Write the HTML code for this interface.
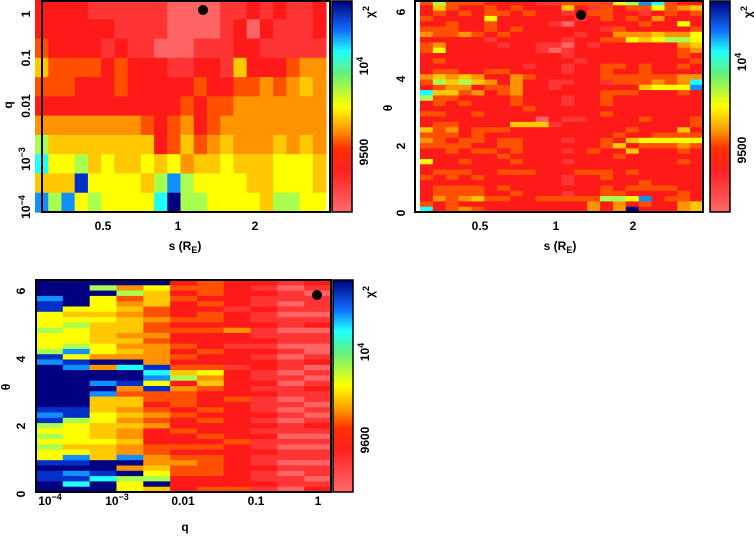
<!DOCTYPE html>
<html><head><meta charset="utf-8">
<style>
html,body{margin:0;padding:0;background:#fff;width:754px;height:537px;overflow:hidden}
svg{display:block}
text{font-family:"Liberation Sans",sans-serif;font-weight:bold;font-size:12px;fill:#000}
</style></head>
<body>
<svg id="fig" width="754" height="537" viewBox="0 0 754 537" xmlns="http://www.w3.org/2000/svg">
<defs>
<linearGradient id="cb" x1="0" y1="1" x2="0" y2="0">
<stop offset="0" stop-color="#ff6b6b"/><stop offset="0.2" stop-color="#ff2020"/>
<stop offset="0.3" stop-color="#ff3000"/><stop offset="0.38" stop-color="#ff9000"/>
<stop offset="0.5" stop-color="#ffff00"/><stop offset="0.66" stop-color="#60f080"/>
<stop offset="0.76" stop-color="#20ffff"/><stop offset="0.86" stop-color="#1070ff"/>
<stop offset="1" stop-color="#000080"/>
</linearGradient>
</defs>
</svg>
<script>
// colour levels (0 = lowest chi2, b = highest)
const levelColors = ["#ff6464","#ff3434","#ff1a1a","#ff5000","#ff9400","#ffc800","#ffff00","#a8ff50","#20ffff","#1090ff","#0030c8","#000080"];

// Panel 1: q (rows, top=1 to bottom=1e-4) vs s (columns)
const p1Rows = [
"2222111111000011212112",
"2222221111000012021112",
"3222212110001112211111",
"5333323222112215222344",
"3332223222223223343454",
"2222222222232334444444",
"4444444432342344444444",
"7555555552353454445454",
"8667565565645565556665",
"555a666657976666556665",
"9796766668b77666657766"
];
// Panel 2: theta (rows, top=6.3 to bottom=0) vs s (columns)
const p2Rows = [
"3733322221133316798322",
"2532232322252132336345",
"2323233232212332212323",
"3222262222221232324222",
"2232232222102222232262",
"3332232322222213222223",
"4334323222221224445446",
"2222212222212233656776",
"3422221221102122222245",
"3622222221012222222234",
"2222222222212222222232",
"2322222222221222222223",
"2222222212212233232232",
"2332233222212232232222",
"4545422432222233333344",
"3757542422112213334348",
"2344233422122222256669",
"8553423422222233322232",
"7332222322212232222222",
"2323222322212232222222",
"2222222232222222222222",
"3322322222222232222222",
"2222222220211222232223",
"2332222555122222222223",
"5342333222222222322252",
"3332322222222223223333",
"4323323322212232566666",
"3333223322222235233343",
"2232332322212322522232",
"2222223222222223222222",
"6223222322212222222232",
"2222222222222222222222",
"2333223332223332322222",
"3232322222212232222222",
"2222222222212222232222",
"2333323222222232333322",
"2333322322212233222232",
"2434533223333377692332",
"3232222222222424232245",
"8234322222222424b22245"
];
// Panel 3: theta (rows, top=6.3 to bottom=0) vs q (columns), one string per column
const p3Cols = [
"bbb9aa666766678a9bbbbbbbba9a67676766abaabbb",
"bbbbb6567666796a9bbbbbbbaa76666569ab9a8bb",
"b7b666565555664b4bb9b9555665556555bba8bbb",
"b47345455545454b8bbab43554545445449b4b766b",
"b655533433434444a896a33234342223344567b55",
"23232223232232323572433323223223234332222",
"33323233232223223645322232322323233332233",
"22222122242212221222223222222232222222232",
"21211211211212122112121112121211211211212",
"10110101101101011010110101011010110101101",
"21011101201100120101211010121010110110121"
];
const p1X = ["0.5","1","2"], p1XPos=[103,178,255];
const p1Y = ["1","0.1","0.01","10","10"], p1YPos=[10,58,106,155,203];

const svg=document.getElementById('fig');
const NS="http://www.w3.org/2000/svg";
function mk(tag,attrs){const e=document.createElementNS(NS,tag);for(const k in attrs)e.setAttribute(k,attrs[k]);svg.appendChild(e);return e;}
function col(ch){const v=parseInt(ch,16);return isNaN(v)?levelColors[2]:levelColors[Math.min(v,11)];}

function drawGrid(rows,nc,x0,x1,y0,y1,name){
  const nr=rows.length;
  for(let r=0;r<nr;r++){const row=rows[r];
    for(let c=0;c<nc;c++){
      const ch=row[Math.floor(c*row.length/nc)];
      const xa=x0+(x1-x0)*c/nc, xb=x0+(x1-x0)*(c+1)/nc;
      const ya=y0+(y1-y0)*r/nr, yb=y0+(y1-y0)*(r+1)/nr;
      const e=mk('rect',{x:xa.toFixed(2),y:ya.toFixed(2),width:(xb-xa+0.6).toFixed(2),height:(yb-ya+0.6).toFixed(2),fill:col(ch)});
      
      
    }}
}
// panel 3 from columns -> rows
const p3RowCount=40;
const p3Rows=[];
for(let r=0;r<p3RowCount;r++){let s="";for(let c=0;c<p3Cols.length;c++){const cs=p3Cols[c];s+=cs[Math.floor(r*cs.length/p3RowCount)];}p3Rows.push(s);}

drawGrid(p1Rows,22,35,326,0,212,'panel1');
drawGrid(p2Rows,22,420,703,0,212,'panel2');
drawGrid(p3Rows,11,36,331,280,492,'panel3');

function frame(x,y,w,h,name){const e=mk('rect',{x:x,y:y,width:w,height:h,fill:'none',stroke:'#000','stroke-width':2});

}
function cbar(x,y,w,h,name){const e=mk('rect',{x:x,y:y,width:w,height:h,fill:'url(#cb)',stroke:'#000','stroke-width':1.5});

}
function txt(x,y,s,name,rot,size){const e=mk('text',{x:x,y:y,'text-anchor':'middle'});
if(rot)e.setAttribute('transform','rotate(-90 '+x+' '+y+')');
if(size)e.style.fontSize=size+'px';
e.textContent=s;

return e;}
function sup(x,y,base,exp,name,rot){const e=txt(x,y,'','',rot);

const t1=document.createElementNS(NS,'tspan');t1.textContent=base;e.appendChild(t1);
const t2=document.createElementNS(NS,'tspan');t2.setAttribute('dy','-5');t2.style.fontSize='9px';t2.textContent=exp;e.appendChild(t2);}
function dot(x,y,name){const e=mk('circle',{cx:x,cy:y,r:5,fill:'#000'});

}

// Panel 1
frame(42,1,288,211,'panel1-frame');cbar(332,1,20,211,'panel1-colorbar');
p1X.forEach((s,i)=>txt(p1XPos[i],230,s,'panel1-x-tick'));
txt(185,250,'s (R',"panel1-x-title").innerHTML+='<tspan dy="3" font-size="9">E</tspan><tspan dy="-3">)</tspan>';
txt(30,p1YPos[0]+4,'1','panel1-y-tick',true);
txt(30,p1YPos[1],'0.1','panel1-y-tick',true);
txt(30,p1YPos[2],'0.01','panel1-y-tick',true);
sup(30,p1YPos[3]+4,'10','−3','panel1-y-tick',true);
sup(30,p1YPos[4]+4,'10','−4','panel1-y-tick',true);
txt(12,105,'q','panel1-y-title',true);
sup(368,152,'9500','','panel1-cbar-label',true);
sup(368,66,'10','4','panel1-cbar-label',true);
sup(374,12,'χ','2','panel1-cbar-title',true);
dot(203,10,'panel1-best-fit-marker');

// Panel 2
frame(415,1,288,211,'panel2-frame');cbar(710,1,20,211,'panel2-colorbar');
[["0.5",480],["1",556],["2",633]].forEach(a=>txt(a[1],230,a[0],'panel2-x-tick'));
txt(560,250,'s (R',"panel2-x-title").innerHTML+='<tspan dy="3" font-size="9">E</tspan><tspan dy="-3">)</tspan>';
[["0",209],["2",142],["4",75],["6",8]].forEach(a=>txt(405,a[1]+4,a[0],'panel2-y-tick',true));
txt(392,108,'θ','panel2-y-title',true);
txt(746,150,'9500','panel2-cbar-label',true);
sup(746,62,'10','4','panel2-cbar-label',true);
sup(752,12,'χ','2','panel2-cbar-title',true);
dot(581,15,'panel2-best-fit-marker');

// Panel 3
frame(36,280,295,212,'panel3-frame');cbar(333,280,20,212,'panel3-colorbar');
sup(50,505,'10','−4','panel3-x-tick');
sup(117,505,'10','−3','panel3-x-tick');
txt(183,505,'0.01','panel3-x-tick');
txt(256,505,'0.1','panel3-x-tick');
txt(318,505,'1','panel3-x-tick');
txt(185,531,'q','panel3-x-title');
[["0",490],["2",422],["4",355],["6",287]].forEach(a=>txt(25,a[1]+4,a[0],'panel3-y-tick',true));
txt(10,387,'θ','panel3-y-title',true);
txt(369,440,'9600','panel3-cbar-label',true);
sup(369,352,'10','4','panel3-cbar-label',true);
sup(374,292,'χ','2','panel3-cbar-title',true);
dot(317,295,'panel3-best-fit-marker');
</script>
</body></html>
